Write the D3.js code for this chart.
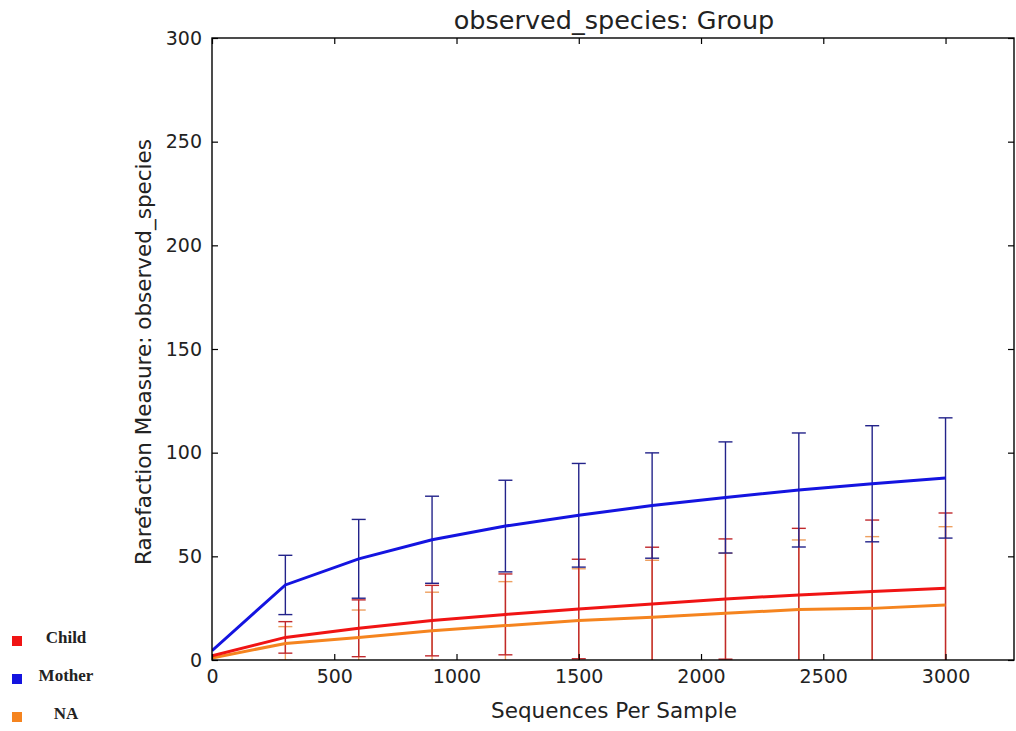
<!DOCTYPE html>
<html><head><meta charset="utf-8">
<script src="https://cdn.jsdelivr.net/npm/d3@7"></script>
<style>
body{margin:0;background:#fff;}
text{font-family:"DejaVu Sans",sans-serif;}
text.legend{font-family:"Liberation Serif","Times New Roman",serif;font-weight:bold;}
</style></head>
<body><svg id="chart" width="1016" height="731"></svg>
<script>
const seqDepths = [0, 300, 600, 900, 1200, 1500, 1800, 2100, 2400, 2700, 3000];
const groups = ["Child", "Mother", "NA"];
const childMean  = [2, 10.9, 15.3, 19, 22, 24.6, 27, 29.4, 31.4, 33, 34.6];
const childErr   = [0, 7.6, 13.7, 17, 19.5, 24, 27.4, 29, 32.1, 34.5, 36.3];
const motherMean = [4.5, 36.2, 48.8, 58, 64.6, 69.8, 74.5, 78.4, 82, 85, 87.8];
const motherErr  = [0, 14.3, 19, 21, 22.1, 25, 25.4, 26.8, 27.5, 28, 29];
const naMean     = [1, 8, 10.9, 14.1, 16.6, 19, 20.6, 22.5, 24.4, 24.9, 26.5];
const naErr      = [0, 8.1, 13.2, 18.6, 21.2, 25, 27.5, 29, 33.5, 34.6, 37.8];
const xTicks = [0, 500, 1000, 1500, 2000, 2500, 3000];
const yTicks = [0, 50, 100, 150, 200, 250, 300];

const lineColors = {Child:"#f01414", Mother:"#1414e0", NA:"#f5841f"};
const barColors  = {Child:"#c0282c", Mother:"#23238a", NA:"#eea060"};
const series = [
  {name:"NA", mean:naMean, err:naErr},
  {name:"Child", mean:childMean, err:childErr},
  {name:"Mother", mean:motherMean, err:motherErr}
];

const svg = d3.select("#chart");
const L=212, R=1014, T=38, B=660;
const x = d3.scaleLinear().domain([0,3280]).range([L,R]);
const y = d3.scaleLinear().domain([0,300]).range([B,T]);

svg.append("clipPath").attr("id","clip").append("rect")
  .attr("x",L).attr("y",T).attr("width",R-L).attr("height",B-T);
const plot = svg.append("g").attr("clip-path","url(#clip)");

// error bars
series.forEach(s=>{
  const g = plot.append("g");
  seqDepths.forEach((d,i)=>{
    if (s.err[i] <= 0) return;
    const xv = x(d), lo = y(s.mean[i]-s.err[i]), hi = y(s.mean[i]+s.err[i]);
    g.append("line").attr("x1",xv).attr("x2",xv).attr("y1",lo).attr("y2",hi)
      .attr("stroke",barColors[s.name]).attr("stroke-width",1.4);
    [lo,hi].forEach(yy=>g.append("line").attr("x1",xv-7).attr("x2",xv+7)
      .attr("y1",yy).attr("y2",yy).attr("stroke",barColors[s.name]).attr("stroke-width",1.4));
  });
});
// lines
series.forEach(s=>{
  const ln = d3.line().x((d,i)=>x(seqDepths[i])).y(d=>y(d));
  plot.append("path").datum(s.mean).attr("d",ln).attr("fill","none")
    .attr("stroke",lineColors[s.name]).attr("stroke-width",3);
});

// axes (inward ticks on all sides)
const tickStyle = g=>{g.select(".domain").remove(); g.selectAll("line").attr("stroke","#000").attr("stroke-width",1.2); g.selectAll("text").attr("font-family","DejaVu Sans").attr("fill","#222").attr("font-size",19);};
svg.append("g").attr("transform",`translate(0,${B})`)
  .call(d3.axisBottom(x).tickValues(xTicks).tickSizeInner(-6).tickSizeOuter(0).tickPadding(10).tickFormat(d3.format("d"))).call(tickStyle);
svg.append("g").attr("transform",`translate(0,${T})`)
  .call(d3.axisTop(x).tickValues(xTicks).tickSizeInner(-6).tickSizeOuter(0).tickFormat("")).call(tickStyle);
svg.append("g").attr("transform",`translate(${L},0)`)
  .call(d3.axisLeft(y).tickValues(yTicks).tickSizeInner(-6).tickSizeOuter(0).tickPadding(10).tickFormat(d3.format("d"))).call(tickStyle);
svg.append("g").attr("transform",`translate(${R},0)`)
  .call(d3.axisRight(y).tickValues(yTicks).tickSizeInner(-6).tickSizeOuter(0).tickFormat("")).call(tickStyle);
svg.append("rect").attr("x",L).attr("y",T).attr("width",R-L).attr("height",B-T)
  .attr("fill","none").attr("stroke","#000").attr("stroke-width",1.4);

// titles
svg.append("text").attr("x",614).attr("y",29).attr("text-anchor","middle")
  .attr("font-size",25.5).attr("fill","#222").text("observed_species: Group");
svg.append("text").attr("x",614).attr("y",718).attr("text-anchor","middle")
  .attr("font-size",21.5).attr("fill","#222").text("Sequences Per Sample");
svg.append("text").attr("transform","translate(151,352) rotate(-90)").attr("text-anchor","middle")
  .attr("font-size",21.5).attr("fill","#222").text("Rarefaction Measure: observed_species");

// legend
const leg = svg.append("g");
groups.forEach((gname,i)=>{
  const cy = 641 + i*38;
  leg.append("rect").attr("x",12).attr("y",cy-5).attr("width",10).attr("height",10).attr("fill",lineColors[gname]);
  leg.append("text").attr("class","legend").attr("x",66).attr("y",cy+2).attr("text-anchor","middle")
    .attr("font-size",17).attr("fill","#222").text(gname);
});
</script></body></html>
